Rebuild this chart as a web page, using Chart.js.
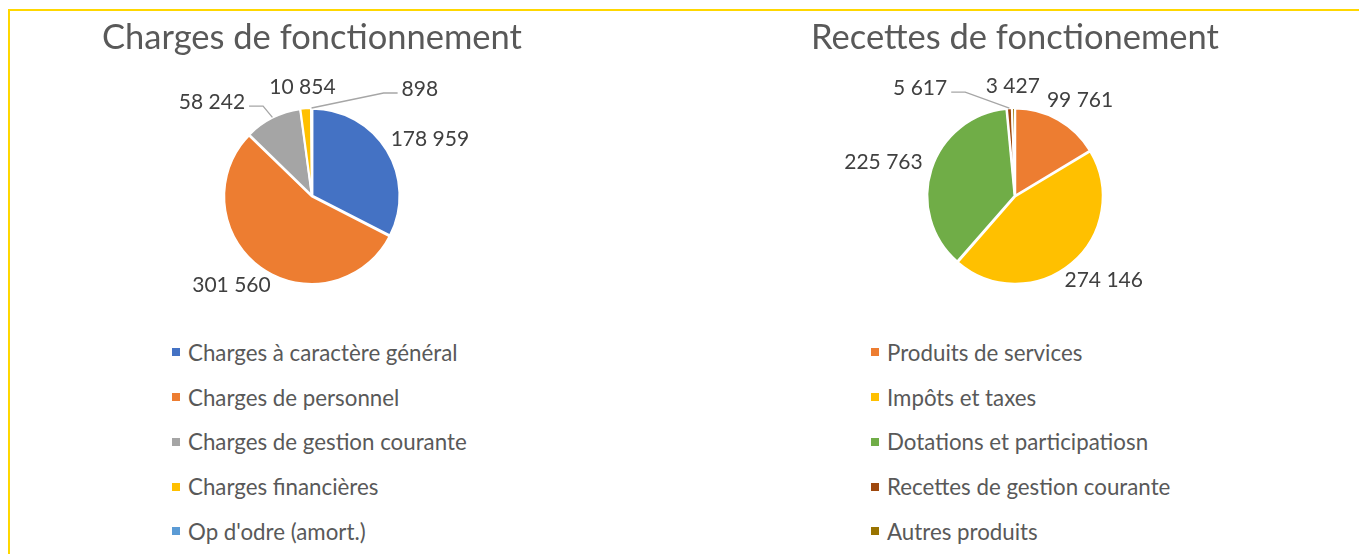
<!DOCTYPE html>
<html lang="fr">
<head>
<meta charset="utf-8">
<title>Charges et recettes de fonctionnement</title>
<script src="https://cdn.jsdelivr.net/npm/chart.js@4.4.1/dist/chart.umd.min.js"></script>
<style>
	html, body { margin: 0; padding: 0; background: #fff; }
	body { position: relative; width: 1359px; height: 554px; overflow: hidden; font-family: Lato, sans-serif; }
	.frame { position: absolute; left: 8px; top: 9px; width: 1420px; height: 620px; border: 2px solid #FFD700; box-sizing: border-box; }
	.chart-box { position: absolute; top: 14px; width: 600px; height: 300px; }
	.legend { position: absolute; top: 330px; list-style: none; margin: 0; padding: 0; }
	.legend li { height: 44.75px; display: flex; align-items: center; color: #595959; font-size: 22.3px; white-space: nowrap; }
	.legend .swatch { width: 8px; height: 8px; margin-right: 8px; flex: none; }
</style>
</head>
<body>
<div class="frame"></div>
<div class="chart-box" style="left:12px"><canvas id="chargesChart" width="600" height="300"></canvas></div>
<div class="chart-box" style="left:715px"><canvas id="recettesChart" width="600" height="300"></canvas></div>
<ul class="legend" id="chargesLegend" style="left:172px"></ul>
<ul class="legend" id="recettesLegend" style="left:871px"></ul>
<script>
	// Charges de fonctionnement
	const chargesLabels = ['Charges à caractère général', 'Charges de personnel', 'Charges de gestion courante', 'Charges financières', 'Op d\'odre (amort.)'];
	const chargesValues = [178959, 301560, 58242, 10854, 898];
	const chargesColors = ['#4472C4', '#ED7D31', '#A5A5A5', '#FFC000', '#5B9BD5'];

	// Recettes de fonctionnement
	const recettesLabels = ['Produits de services', 'Impôts et taxes', 'Dotations et participatiosn', 'Recettes de gestion courante', 'Autres produits'];
	const recettesValues = [99761, 274146, 225763, 5617, 3427];
	const recettesColors = ['#ED7D31', '#FFC000', '#70AD47', '#9E480E', '#997300'];

(() => {
	'use strict'

	// French style thousands separator: 178959 -> "178 959"
	function formatValue(value) {
		return value.toString().replace(/\B(?=(\d{3})+(?!\d))/g, ' ');
	}

	/******************** Value labels plugin Start ********************/
	// Draws the value outside each slice, with a leader line for the small ones.
	const pieLabels = {
		id: 'pieLabels',
		afterDatasetsDraw(chart, args, opts) {
			const ctx = chart.ctx;
			const meta = chart.getDatasetMeta(0);
			const values = chart.data.datasets[0].data;
			const leaders = opts.leaders || {};
			ctx.save();
			ctx.font = opts.size + 'px ' + opts.family;
			ctx.fillStyle = opts.color;
			ctx.textAlign = 'center';
			ctx.textBaseline = 'middle';
			meta.data.forEach((arc, i) => {
				const p = arc.getProps(['x', 'y', 'startAngle', 'endAngle', 'outerRadius'], true);
				const mid = (p.startAngle + p.endAngle) / 2;
				const dx = Math.cos(mid);
				const dy = Math.sin(mid);
				const text = formatValue(values[i]);
				const w = ctx.measureText(text).width;
				const lead = leaders[i];
				if (lead) {
					// label placed relative to the radius, line drawn from the slice edge
					const lx = p.x + lead[0] * p.outerRadius;
					const ly = p.y + lead[1] * p.outerRadius;
					const side = lx < p.x ? 1 : -1;
					const ex = lx + side * (w / 2 + 4);
					const ey = ly + 4;
					const bx = ex + side * 14;
					const sx = p.x + dx * (p.outerRadius + 1);
					const sy = p.y + dy * (p.outerRadius + 1);
					ctx.strokeStyle = opts.lineColor;
					ctx.lineWidth = 1.3;
					ctx.beginPath();
					ctx.moveTo(sx, sy);
					ctx.lineTo(bx, ey);
					ctx.lineTo(ex, ey);
					ctx.stroke();
					ctx.fillText(text, lx, ly);
				} else {
					const r = p.outerRadius + opts.gap;
					ctx.fillText(text, p.x + dx * r + dx * w / 2, p.y + dy * r + dy * opts.size / 2);
				}
			});
			ctx.restore();
		}
	};
	/********************* Value labels plugin End *********************/

	// Builds a vertical legend list from the chart's own legend items
	function buildLegend(chart, listId) {
		const list = document.getElementById(listId);
		const items = chart.options.plugins.legend.labels.generateLabels(chart);
		items.forEach((item) => {
			const li = document.createElement('li');
			const box = document.createElement('span');
			box.className = 'swatch';
			box.style.background = item.fillStyle;
			li.appendChild(box);
			li.appendChild(document.createTextNode(item.text));
			list.appendChild(li);
		});
	}

	function pieConfig(title, labels, values, colors, leaders) {
		return {
			type: 'pie',
			data: {
				labels: labels,
				datasets: [{
					data: values,
					backgroundColor: colors,
					borderColor: '#ffffff',
					borderWidth: 2,
					offset: 2,
					radius: 87,
				}]
			},
			options: {
				responsive: false,
				animation: false,
				layout: {
					padding: { top: 0, bottom: 26 }
				},
				plugins: {
					legend: { display: false },
					tooltip: { enabled: false },
					title: {
						display: true,
						text: title,
						color: '#595959',
						font: { family: 'Lato', size: 34.5, weight: 'normal' },
						padding: { top: 3, bottom: 45.6 }
					},
					pieLabels: {
						family: 'Lato',
						size: 21,
						color: '#404040',
						lineColor: '#A6A6A6',
						gap: 12,
						leaders: leaders
					}
				}
			},
			plugins: [pieLabels]
		};
	}

	/******************** Chart 1 Start ********************/
	const chart1 = new Chart(document.getElementById('chargesChart'),
		pieConfig('Charges de fonctionnement', chargesLabels, chargesValues, chargesColors,
			{ 2: [-1.15, -1.08], 4: [1.24, -1.23] }));
	buildLegend(chart1, 'chargesLegend');
	/********************* Chart 1 End *********************/

	/******************** Chart 2 Start ********************/
	const chart2 = new Chart(document.getElementById('recettesChart'),
		pieConfig('Recettes de fonctionement', recettesLabels, recettesValues, recettesColors,
			{ 3: [-1.09, -1.24] }));
	buildLegend(chart2, 'recettesLegend');
	/********************* Chart 2 End *********************/
})()
</script>
</body>
</html>
